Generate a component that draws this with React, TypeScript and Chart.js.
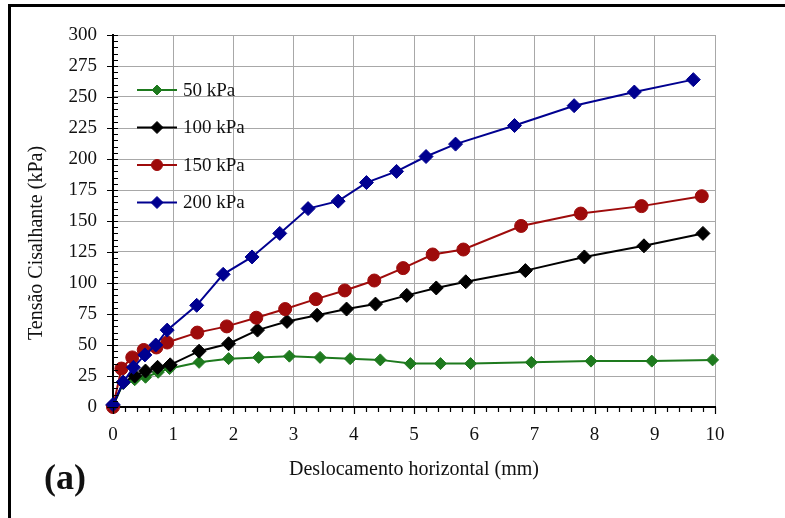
import React, { useEffect, useRef } from "react";
import { Chart, registerables } from "chart.js";

Chart.register(...registerables);

// Horizontal displacement (mm) and shear stress (kPa) for each normal stress
const desloc50 = [0, 0.17, 0.36, 0.54, 0.75, 0.94, 1.43, 1.92, 2.42, 2.93, 3.44, 3.94, 4.44, 4.94, 5.44, 5.94, 6.95, 7.94, 8.95, 9.96];
const tensao50 = [1, 19, 22, 24, 28, 31, 36, 39, 40, 41, 40, 39, 38, 35, 35, 35, 36, 37, 37, 38];

const desloc100 = [0, 0.17, 0.36, 0.54, 0.74, 0.95, 1.43, 1.92, 2.4, 2.89, 3.39, 3.88, 4.36, 4.88, 5.37, 5.86, 6.85, 7.83, 8.82, 9.8];
const tensao100 = [1, 20, 25, 29, 32, 34, 45, 51, 62, 69, 74, 79, 83, 90, 96, 101, 110, 121, 130, 140];

const desloc150 = [0, 0.14, 0.32, 0.51, 0.72, 0.9, 1.4, 1.89, 2.38, 2.86, 3.37, 3.85, 4.34, 4.82, 5.31, 5.82, 6.78, 7.77, 8.78, 9.78];
const tensao150 = [0, 31, 40, 46, 48, 52, 60, 65, 72, 79, 87, 94, 102, 112, 123, 127, 146, 156, 162, 170];

const desloc200 = [0, 0.17, 0.34, 0.53, 0.71, 0.9, 1.39, 1.83, 2.31, 2.77, 3.24, 3.74, 4.21, 4.71, 5.2, 5.69, 6.67, 7.66, 8.66, 9.64];
const tensao200 = [2, 20, 32, 42, 50, 62, 82, 107, 121, 140, 160, 166, 181, 190, 202, 212, 227, 243, 254, 264];

const seriesLabels = ["50 kPa", "100 kPa", "150 kPa", "200 kPa"];

const xTitle = "Deslocamento horizontal (mm)";
const yTitle = "Tensão Cisalhante (kPa)";
const panelLabel = "(a)";

const SERIF = "'Liberation Serif', 'Times New Roman', serif";

const toPoints = (xs: number[], ys: number[]) => xs.map((x, i) => ({ x, y: ys[i] }));

// small marker used in the legend rows
function drawMarker(ctx: CanvasRenderingContext2D, style: string, r: number, x: number, y: number) {
  ctx.beginPath();
  if (style === "circle") {
    ctx.arc(x, y, r, 0, Math.PI * 2);
  } else {
    ctx.moveTo(x, y - r);
    ctx.lineTo(x + r, y);
    ctx.lineTo(x, y + r);
    ctx.lineTo(x - r, y);
    ctx.closePath();
  }
  ctx.fill();
  ctx.stroke();
}

// Frame, axis titles, minor ticks and the in-plot legend
const decorPlugin = {
  id: "decor",
  afterDraw(chart: any) {
    const ctx = chart.ctx as CanvasRenderingContext2D;
    const xs = chart.scales.x;
    const ys = chart.scales.y;
    const { left, right, bottom } = chart.chartArea;
    ctx.save();

    // outer frame (left and top edges)
    ctx.strokeStyle = "#000";
    ctx.lineWidth = 3;
    ctx.beginPath();
    ctx.moveTo(9.5, chart.height);
    ctx.lineTo(9.5, 5.5);
    ctx.lineTo(chart.width, 5.5);
    ctx.stroke();

    // tick marks
    ctx.lineWidth = 1.2;
    ctx.strokeStyle = "#000";
    ctx.beginPath();
    for (let v = 0; v <= 300 + 1e-6; v += 5) {
      const py = Math.round(ys.getPixelForValue(v)) + 0.5;
      const major = v % 25 === 0;
      ctx.moveTo(major ? left - 6 : left, py);
      ctx.lineTo(left + 5, py);
    }
    for (let i = 0; i <= 50; i++) {
      const v = i * 0.2;
      const px = Math.round(xs.getPixelForValue(v)) + 0.5;
      const major = i % 5 === 0;
      ctx.moveTo(px, bottom);
      ctx.lineTo(px, bottom + (major ? 7 : 5));
    }
    ctx.stroke();

    // axis titles
    ctx.fillStyle = "#111";
    ctx.font = `20px ${SERIF}`;
    ctx.textAlign = "center";
    ctx.textBaseline = "middle";
    ctx.fillText(xTitle, (left + right) / 2, 470);
    ctx.save();
    ctx.translate(37, 243);
    ctx.rotate(-Math.PI / 2);
    ctx.fillText(yTitle, 0, 0);
    ctx.restore();

    // panel label
    ctx.font = `bold 36px ${SERIF}`;
    ctx.textAlign = "left";
    ctx.fillText(panelLabel, 44, 480);

    // legend
    const rowY = [90, 127.5, 165, 202.5];
    chart.data.datasets.forEach((ds: any, i: number) => {
      const y = rowY[i];
      ctx.strokeStyle = ds.borderColor;
      ctx.lineWidth = 2;
      ctx.beginPath();
      ctx.moveTo(137, y);
      ctx.lineTo(177, y);
      ctx.stroke();
      ctx.fillStyle = ds.backgroundColor;
      ctx.lineWidth = 1;
      drawMarker(ctx, ds.pointStyle, ds.pointRadius - 1, 157, y);
      ctx.fillStyle = "#111";
      ctx.font = `19px ${SERIF}`;
      ctx.textAlign = "left";
      ctx.textBaseline = "middle";
      ctx.fillText(ds.label, 183, y + 1);
    });

    ctx.restore();
  },
};

export default function App() {
  const canvasRef = useRef<HTMLCanvasElement | null>(null);

  useEffect(() => {
    if (!canvasRef.current) return;
    const mk = (label: string, xs: number[], ys: number[], color: string, style: string, r: number, order: number) => ({
      label,
      data: toPoints(xs, ys),
      borderColor: color,
      backgroundColor: color,
      borderWidth: 2,
      pointStyle: style,
      pointRadius: r,
      pointBorderWidth: 1,
      tension: 0,
      clip: false,
      order,
    });
    const chart = new Chart(canvasRef.current, {
      type: "line",
      data: {
        datasets: [
          mk(seriesLabels[0], desloc50, tensao50, "#1e7a1e", "rectRot", 6, 3),
          mk(seriesLabels[1], desloc100, tensao100, "#000000", "rectRot", 7, 2),
          mk(seriesLabels[2], desloc150, tensao150, "#9e0b0b", "circle", 6.5, 1),
          mk(seriesLabels[3], desloc200, tensao200, "#000090", "rectRot", 7, 0),
        ],
      },
      options: {
        animation: false,
        responsive: false,
        devicePixelRatio: 1,
        layout: { padding: { top: 35, right: 70, bottom: 0, left: 0 } },
        plugins: { legend: { display: false }, tooltip: { enabled: false } },
        scales: {
          x: {
            type: "linear",
            min: 0,
            max: 10,
            ticks: { stepSize: 1, padding: 17, color: "#111", font: { family: SERIF, size: 19 } },
            grid: { color: "#a8a8a8", lineWidth: 1, drawTicks: false },
            border: { color: "#000", width: 2 },
            afterFit: (s: any) => {
              s.height = 111;
            },
          },
          y: {
            type: "linear",
            min: 0,
            max: 300,
            ticks: { stepSize: 25, padding: 16, color: "#111", font: { family: SERIF, size: 19 } },
            grid: { color: "#a8a8a8", lineWidth: 1, drawTicks: false },
            border: { color: "#000", width: 2 },
            afterFit: (s: any) => {
              s.width = 113;
            },
          },
        },
      } as any,
      plugins: [decorPlugin],
    });
    return () => chart.destroy();
  }, []);

  return (
    <div style={{ position: "absolute", left: 0, top: 0, width: 785, height: 518, background: "#fff" }}>
      <canvas ref={canvasRef} width={785} height={518} />
    </div>
  );
}
